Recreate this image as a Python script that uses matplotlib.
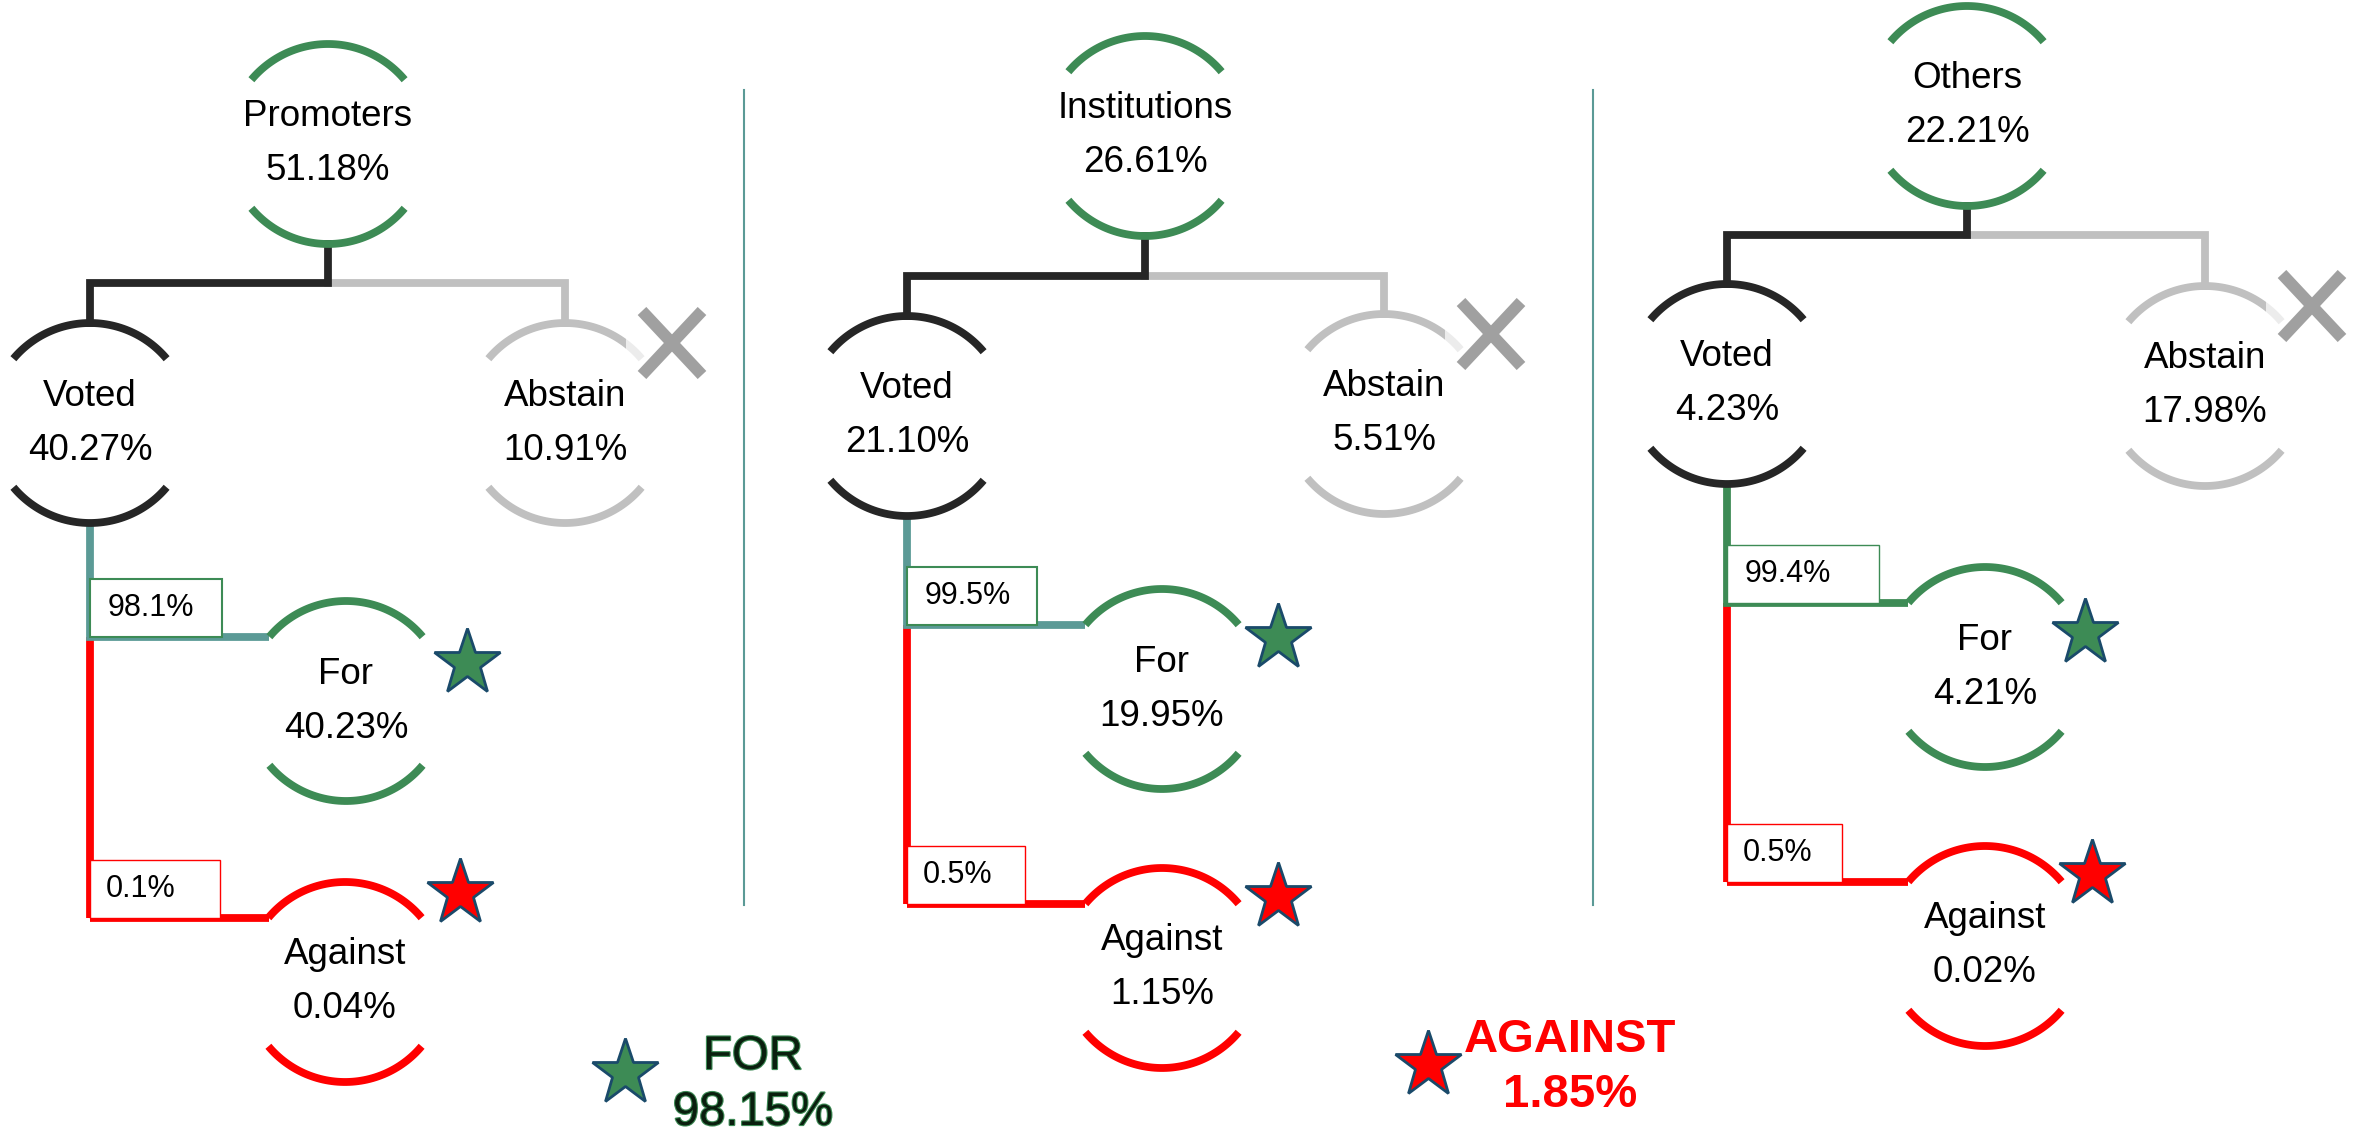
"""Shareholder voting tree: promoters / institutions / others."""

import matplotlib

matplotlib.use("Agg")
import matplotlib.pyplot as plt
import matplotlib.patheffects as pe
import numpy as np
from matplotlib.patches import FancyBboxPatch, Rectangle

# ---- data -------------------------------------------------------------
GROUPS = ["Promoters", "Institutions", "Others"]
GROUP_PCT = [51.18, 26.61, 22.21]
VOTED_PCT = [40.27, 21.10, 4.23]
ABSTAIN_PCT = [10.91, 5.51, 17.98]
FOR_PCT = [40.23, 19.95, 4.21]
AGAINST_PCT = [0.04, 1.15, 0.02]
FOR_SHARE = ["98.1%", "99.5%", "99.4%"]
AGAINST_SHARE = ["0.1%", "0.5%", "0.5%"]
TOTAL_FOR = 98.15
TOTAL_AGAINST = 1.85

# ---- layout (pixel space, y downwards) -------------------------------
W, H = 2366, 1134
R = 100
ROOT = [(328, 144), (1145, 136), (1967, 106)]
JOIN_Y = [283, 276, 235]
VOTED = [(90, 423), (907, 416), (1727, 384)]
ABSTAIN = [(565, 423), (1384, 414), (2205, 386)]
FOR_NODE = [(346, 701), (1162, 689), (1985, 667)]
AGAINST_NODE = [(345, 982), (1162, 968), (1985, 946)]
FOR_STAR = [(467, 663), (1278, 638), (2085, 633)]
AGAINST_STAR = [(460, 893), (1278, 897), (2092, 874)]
FOR_BOX_W = [132, 130, 152]
AGAINST_BOX_W = [130, 118, 115]
DIVIDERS = [744, 1593]

GREEN = "#3d8b55"
RED = "#ff0000"
BLACK = "#262626"
GRAY = "#c0c0c0"
TEAL = "#5b9a96"
STAR_EDGE = "#1a4a6a"
LW = 5.6
FONT = "Liberation Sans"

plt.rcParams.update({"font.family": FONT})

fig = plt.figure(figsize=(W / 100, H / 100), dpi=100)
ax = fig.add_axes([0, 0, 1, 1])
ax.set_xlim(0, W)
ax.set_ylim(H, 0)
ax.axis("off")

DX = R * np.cos(np.radians(40))
DY = R * np.sin(np.radians(40))


def node(cx, cy, color, label, value, fs=26.5):
    t = np.radians(np.linspace(40, 140, 60))
    ax.plot(cx + R * np.cos(t), cy - R * np.sin(t), color=color, lw=LW,
            solid_capstyle="butt", zorder=3)
    ax.plot(cx + R * np.cos(t), cy + R * np.sin(t), color=color, lw=LW,
            solid_capstyle="butt", zorder=3)
    ax.text(cx, cy - 27, label, ha="center", va="center", fontsize=fs, color="black")
    ax.text(cx, cy + 27, f"{value:.2f}%", ha="center", va="center", fontsize=fs,
            color="black")


def star(x, y, color, size=50):
    ax.plot(x, y, marker="*", markersize=size, markerfacecolor=color,
            markeredgecolor=STAR_EDGE, markeredgewidth=2.0, zorder=5)


def cross(x, y):
    box = FancyBboxPatch((x - 46, y - 38), 110, 86,
                         boxstyle="round,pad=0,rounding_size=10",
                         facecolor="white", edgecolor="none", alpha=0.7, zorder=4)
    ax.add_patch(box)
    for sx in (-1, 1):
        ax.plot([x - 30, x + 30], [y - 32 * sx, y + 32 * sx], color="#a0a0a0",
                lw=8.5, solid_capstyle="butt", zorder=5)


for i, grp in enumerate(GROUPS):
    rx, ry = ROOT[i]
    vx, vy = VOTED[i]
    axx, ayy = ABSTAIN[i]
    fx, fy = FOR_NODE[i]
    gx, gy = AGAINST_NODE[i]
    jy = JOIN_Y[i]

    # root -> voted / abstain
    ax.plot([rx, rx, vx, vx], [ry + R, jy, jy, vy - R], color=BLACK, lw=LW,
            solid_joinstyle="miter", zorder=2)
    ax.plot([rx, axx, axx], [jy, jy, ayy - R], color=GRAY, lw=LW,
            solid_joinstyle="miter", zorder=1)

    # voted -> for / against
    for_y = fy - DY
    ag_y = gy - DY
    for_col = GREEN if i == 2 else TEAL
    ax.plot([vx, vx], [for_y, ag_y], color=RED, lw=LW, solid_capstyle="butt", zorder=1)
    ax.plot([vx, vx, fx - DX], [vy + R, for_y, for_y], color=for_col, lw=LW,
            solid_joinstyle="miter", solid_capstyle="butt", zorder=2)
    ax.plot([vx, fx - DX], [ag_y, ag_y], color=RED, lw=LW, solid_capstyle="butt", zorder=2)

    # share boxes
    bw_edge = 1.0 if i == 2 else 1.5
    ax.add_patch(Rectangle((vx, for_y - 58), FOR_BOX_W[i], 58, facecolor="white",
                           edgecolor=GREEN, lw=bw_edge, zorder=3))
    ax.text(vx + 18, for_y - 29, FOR_SHARE[i], ha="left", va="center", fontsize=22)
    ax.add_patch(Rectangle((vx, ag_y - 58), AGAINST_BOX_W[i], 58, facecolor="white",
                           edgecolor=RED, lw=1.0, zorder=3))
    ax.text(vx + 16, ag_y - 29, AGAINST_SHARE[i], ha="left", va="center", fontsize=22)

    node(rx, ry, GREEN, grp, GROUP_PCT[i])
    node(vx, vy, BLACK, "Voted", VOTED_PCT[i])
    node(axx, ayy, GRAY, "Abstain", ABSTAIN_PCT[i])
    node(fx, fy, GREEN, "For", FOR_PCT[i])
    node(gx, gy, RED, "Against", AGAINST_PCT[i])

    cross(axx + 107, ayy - 80)
    star(*FOR_STAR[i], GREEN)
    star(*AGAINST_STAR[i], RED)

for dx in DIVIDERS:
    ax.plot([dx, dx], [90, 905], color=TEAL, lw=1.5, zorder=0)

# totals
outline = [pe.withStroke(linewidth=1.6, foreground=GREEN)]
star(625, 1073, GREEN)
ax.text(753, 1057, "FOR", ha="center", va="center", fontsize=34, color="#0a1f0e",
        path_effects=outline)
ax.text(753, 1113, f"{TOTAL_FOR:.2f}%", ha="center", va="center", fontsize=34,
        color="#0a1f0e", path_effects=outline)
star(1428, 1065, RED)
ax.text(1570, 1040, "AGAINST", ha="center", va="center", fontsize=34,
        fontweight="bold", color=RED)
ax.text(1570, 1095, f"{TOTAL_AGAINST:.2f}%", ha="center", va="center", fontsize=34,
        fontweight="bold", color=RED)

fig.savefig("out.png", dpi=100, facecolor="white")
